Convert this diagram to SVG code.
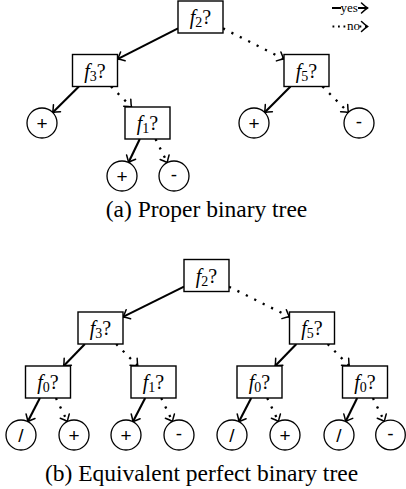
<svg xmlns="http://www.w3.org/2000/svg" width="406" height="489" viewBox="0 0 406 489">
<defs>
<marker id="ah" markerUnits="userSpaceOnUse" markerWidth="14" markerHeight="14" viewBox="-8 -7 10 14" refX="0" refY="0" orient="auto" overflow="visible">
<path d="M-6,-5 Q-2,-1.3 0,0 Q-2,1.3 -6,5" fill="none" stroke="#000" stroke-width="1.5" stroke-dasharray="none" stroke-linecap="round"/>
</marker>
<style>
.box{fill:#fff;stroke:#000;stroke-width:1.4}
.leaf{fill:#fff;stroke:#000;stroke-width:1.3}
.yes{stroke:#000;stroke-width:2.1;fill:none;marker-end:url(#ah)}
.no{stroke:#000;stroke-width:2.3;fill:none;stroke-dasharray:2.2 7.2;stroke-linecap:butt;marker-end:url(#ah)}
.lbl{font-family:"Liberation Serif","Times New Roman",serif;font-size:20px;text-anchor:middle}
.lbl .v{font-style:italic}
.lbl .s{font-size:14px}
.sym{font-family:"Liberation Sans",Arial,sans-serif;font-size:19px;text-anchor:middle}
.cap{font-family:"Liberation Serif","Times New Roman",serif;font-size:23.5px;text-anchor:middle}
.leg{font-family:"Liberation Serif","Times New Roman",serif;font-size:13px}
</style>
</defs>
<g id="connectors">
<line class="yes" x1="178" y1="28.4" x2="117.5" y2="59.1"/>
<line class="no" x1="223" y1="28.4" x2="284" y2="59.1"/>
<line class="yes" x1="78.9" y1="86.5" x2="52.7" y2="112.4"/>
<line class="no" x1="111" y1="86.5" x2="131.5" y2="107"/>
<line class="yes" x1="290.5" y1="86.5" x2="264.6" y2="112.4"/>
<line class="no" x1="322.5" y1="86.5" x2="348.4" y2="112.4"/>
<line class="yes" x1="139.8" y1="139" x2="128.5" y2="162.5"/>
<line class="no" x1="155.5" y1="139" x2="167.3" y2="162.6"/>
<line class="yes" x1="184" y1="286.6" x2="123" y2="316.9"/>
<line class="no" x1="229" y1="286.7" x2="289.5" y2="316.8"/>
<line class="yes" x1="84.9" y1="344" x2="63.6" y2="366"/>
<line class="no" x1="116.2" y1="344" x2="137.8" y2="366"/>
<line class="yes" x1="296.4" y1="344" x2="275.1" y2="366"/>
<line class="no" x1="327.7" y1="344" x2="349.3" y2="366"/>
<line class="yes" x1="39.9" y1="398" x2="27.8" y2="421.6"/>
<line class="no" x1="55.9" y1="398" x2="67.4" y2="421.5"/>
<line class="yes" x1="145.2" y1="398" x2="132.9" y2="421.7"/>
<line class="no" x1="161.2" y1="398" x2="172.5" y2="421.5"/>
<line class="yes" x1="251.2" y1="398" x2="238.9" y2="421.7"/>
<line class="no" x1="267.2" y1="398" x2="278.5" y2="421.5"/>
<line class="yes" x1="357.2" y1="398" x2="345.6" y2="421.5"/>
<line class="no" x1="372.9" y1="398" x2="384.4" y2="421.5"/>
</g>
<g id="legend">
<line x1="332" y1="8" x2="341" y2="8" stroke="#000" stroke-width="2"/>
<text class="leg" x="340.5" y="12">yes</text>
<line x1="358" y1="8" x2="367.5" y2="8" stroke="#000" stroke-width="2" marker-end="url(#ah)"/>
<line x1="332.5" y1="26.5" x2="346" y2="26.5" stroke="#000" stroke-width="2" stroke-dasharray="1.8 3.7"/>
<text class="leg" x="347" y="30">no</text>
<line x1="359.5" y1="26.5" x2="367.5" y2="26.5" stroke="#000" stroke-width="2" stroke-dasharray="1.8 3.7" marker-end="url(#ah)"/>
</g>
<g id="a-f2"><rect class="box" x="178" y="1" width="45" height="32"/><text class="lbl" x="200.5" y="24"><tspan class="v">f</tspan><tspan class="s" dy="3">2</tspan><tspan dy="-3">?</tspan></text></g>
<g id="a-f3"><rect class="box" x="72.5" y="54.5" width="45" height="32"/><text class="lbl" x="95" y="77.5"><tspan class="v">f</tspan><tspan class="s" dy="3">3</tspan><tspan dy="-3">?</tspan></text></g>
<g id="a-f5"><rect class="box" x="284" y="54.5" width="45" height="32"/><text class="lbl" x="306.5" y="77.5"><tspan class="v">f</tspan><tspan class="s" dy="3">5</tspan><tspan dy="-3">?</tspan></text></g>
<g id="a-f1"><rect class="box" x="125" y="107" width="45" height="32"/><text class="lbl" x="147.5" y="130"><tspan class="v">f</tspan><tspan class="s" dy="3">1</tspan><tspan dy="-3">?</tspan></text></g>
<g id="a-l1"><circle class="leaf" cx="42" cy="123" r="15"/><text class="sym" x="42" y="129.5">+</text></g>
<g id="a-l2"><circle class="leaf" cx="254" cy="123" r="15"/><text class="sym" x="254" y="129.5">+</text></g>
<g id="a-l3"><circle class="leaf" cx="359" cy="123" r="15"/><text class="sym" x="359" y="127.5">-</text></g>
<g id="a-l4"><circle class="leaf" cx="122" cy="176" r="15"/><text class="sym" x="122" y="182.5">+</text></g>
<g id="a-l5"><circle class="leaf" cx="174" cy="176" r="15"/><text class="sym" x="174" y="180.5">-</text></g>
<text class="cap" x="206.5" y="217">(a) Proper binary tree</text>
<g id="b-f2"><rect class="box" x="184" y="259.5" width="45" height="32"/><text class="lbl" x="206.5" y="282.5"><tspan class="v">f</tspan><tspan class="s" dy="3">2</tspan><tspan dy="-3">?</tspan></text></g>
<g id="b-f3"><rect class="box" x="78" y="312" width="45" height="32"/><text class="lbl" x="100.5" y="335"><tspan class="v">f</tspan><tspan class="s" dy="3">3</tspan><tspan dy="-3">?</tspan></text></g>
<g id="b-f5"><rect class="box" x="289.5" y="312" width="45" height="32"/><text class="lbl" x="312" y="335"><tspan class="v">f</tspan><tspan class="s" dy="3">5</tspan><tspan dy="-3">?</tspan></text></g>
<g id="b-f0a"><rect class="box" x="25.5" y="366" width="45" height="32"/><text class="lbl" x="48" y="389"><tspan class="v">f</tspan><tspan class="s" dy="3">0</tspan><tspan dy="-3">?</tspan></text></g>
<g id="b-f1"><rect class="box" x="131" y="366" width="45" height="32"/><text class="lbl" x="153.5" y="389"><tspan class="v">f</tspan><tspan class="s" dy="3">1</tspan><tspan dy="-3">?</tspan></text></g>
<g id="b-f0b"><rect class="box" x="237" y="366" width="45" height="32"/><text class="lbl" x="259.5" y="389"><tspan class="v">f</tspan><tspan class="s" dy="3">0</tspan><tspan dy="-3">?</tspan></text></g>
<g id="b-f0c"><rect class="box" x="342.5" y="366" width="45" height="32"/><text class="lbl" x="365" y="389"><tspan class="v">f</tspan><tspan class="s" dy="3">0</tspan><tspan dy="-3">?</tspan></text></g>
<g id="b-l1"><circle class="leaf" cx="21" cy="435" r="15"/><text class="sym" x="21" y="441.5">/</text></g>
<g id="b-l2"><circle class="leaf" cx="74" cy="435" r="15"/><text class="sym" x="74" y="441.5">+</text></g>
<g id="b-l3"><circle class="leaf" cx="126" cy="435" r="15"/><text class="sym" x="126" y="441.5">+</text></g>
<g id="b-l4"><circle class="leaf" cx="179" cy="435" r="15"/><text class="sym" x="179" y="439.5">-</text></g>
<g id="b-l5"><circle class="leaf" cx="232" cy="435" r="15"/><text class="sym" x="232" y="441.5">/</text></g>
<g id="b-l6"><circle class="leaf" cx="285" cy="435" r="15"/><text class="sym" x="285" y="441.5">+</text></g>
<g id="b-l7"><circle class="leaf" cx="339" cy="435" r="15"/><text class="sym" x="339" y="441.5">/</text></g>
<g id="b-l8"><circle class="leaf" cx="390.5" cy="435" r="14.8"/><text class="sym" x="390.5" y="439.5">-</text></g>
<text class="cap" x="201.5" y="481">(b) Equivalent perfect binary tree</text>
</svg>
